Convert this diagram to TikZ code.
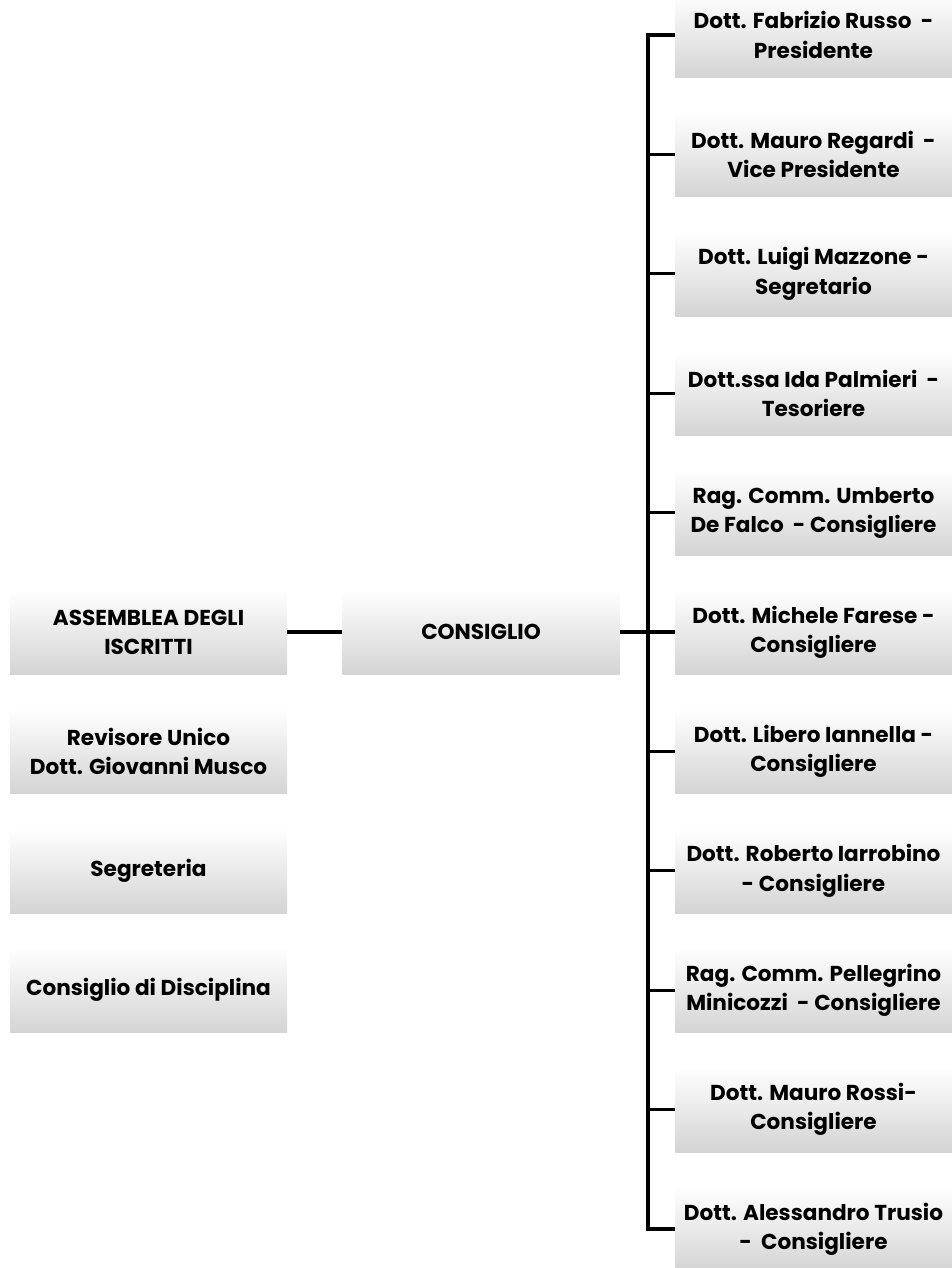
\documentclass[tikz,border=0pt]{standalone}
\usepackage{fontspec}
\setmainfont{Poppins}
\begin{document}
\begin{tikzpicture}[x=0.5pt,y=-0.5pt,
  orgbox/.style={rectangle, minimum width=138.5pt, minimum height=42.5pt,
    inner sep=0pt, top color=white, bottom color=black!17, draw=none,
    align=center, font=\fontsize{10.8}{14.6}\selectfont\bfseries, text=black},
  conn/.style={draw=black, line width=1.6pt}]
\useasboundingbox (0,0) rectangle (952,1268);
% right column
\node[orgbox] (r0) at (813.5,35) {Dott. Fabrizio Russo\ \ -\\Presidente};
\node[orgbox] (r1) at (813.5,154.4) {Dott. Mauro Regardi\ \ -\\Vice Presidente};
\node[orgbox] (r2) at (813.5,273.8) {Dott. Luigi Mazzone -\\Segretario};
\node[orgbox] (r3) at (813.5,393.2) {Dott.ssa Ida Palmieri\ \ -\\Tesoriere};
\node[orgbox] (r4) at (813.5,512.6) {Rag. Comm. Umberto\\De Falco\ \ - Consigliere};
\node[orgbox] (r5) at (813.5,632) {Dott. Michele Farese -\\Consigliere};
\node[orgbox] (r6) at (813.5,751.4) {Dott. Libero Iannella -\\Consigliere};
\node[orgbox] (r7) at (813.5,870.8) {Dott. Roberto Iarrobino\\- Consigliere};
\node[orgbox] (r8) at (813.5,990.2) {Rag. Comm. Pellegrino\\Minicozzi\ \ - Consigliere};
\node[orgbox] (r9) at (813.5,1109.6) {Dott. Mauro Rossi-\\Consigliere};
\node[orgbox] (r10) at (813.5,1229) {Dott. Alessandro Trusio\\-\ \ Consigliere};
% centre and left
\node[orgbox] (cons) at (481,632) {CONSIGLIO};
\node[orgbox] (ass) at (148.5,632) {ASSEMBLEA DEGLI\\ISCRITTI};
\node[orgbox] (rev) at (148.5,751.4) {Revisore Unico\\Dott. Giovanni Musco};
\node[orgbox] (seg) at (148.5,870.8) {Segreteria};
\node[orgbox] (disc) at (148.5,990.2) {Consiglio di Disciplina};
% connectors
\coordinate (bar) at (648,632);
\draw[conn] (ass.east) -- (cons.west);
\draw[conn] (cons.east) -- (cons.east -| bar);
\draw[conn] (r0.west) -- (r0.west -| bar) -- (r10.west -| bar) -- (r10.west);
\foreach \i in {1,...,9}{
  \draw[conn] (r\i.west) -- (r\i.west -| bar);
}
\end{tikzpicture}
\end{document}
